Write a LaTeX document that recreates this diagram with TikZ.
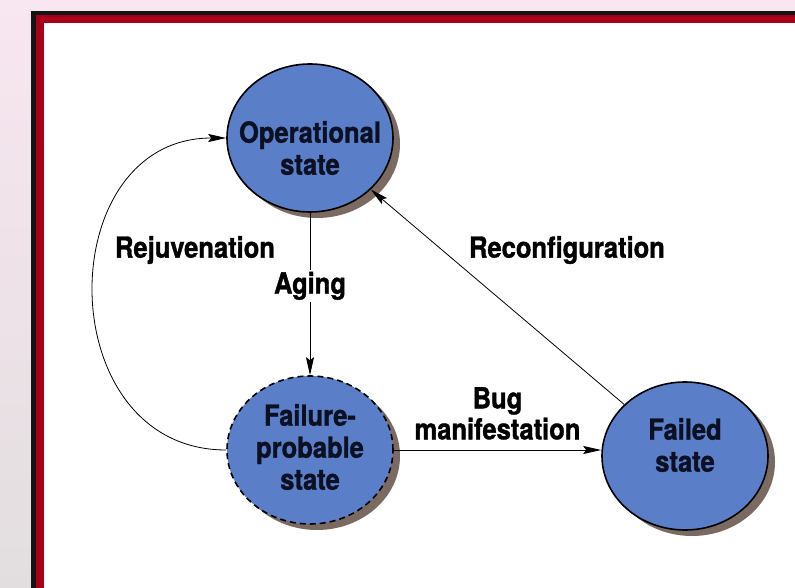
\documentclass[tikz,border=0pt]{standalone}
\usepackage{fontspec}
\setmainfont{TeX Gyre Heros}[FakeStretch=0.88, BoldFeatures={FakeBold=1.2}]
\usetikzlibrary{shapes.geometric,shadows,arrows.meta}

\definecolor{slidepink}{HTML}{F8E6F0}
\definecolor{slidegray}{HTML}{E2DEDF}
\definecolor{framered}{HTML}{A8001A}
\definecolor{stateblue}{HTML}{5B7EC9}
\definecolor{shadowbrown}{HTML}{7A6A62}
\definecolor{inkblue}{HTML}{0B1022}

\begin{document}
\begin{tikzpicture}[x=1pt, y=-1pt, thick,
    main node/.style={ellipse, draw=black, line width=1.6pt, fill=stateblue, minimum width=166pt, minimum height=148pt,
        drop shadow={shadow xshift=7pt, shadow yshift=-6pt, fill=shadowbrown, opacity=1}},
    state text/.style={align=center, text=inkblue, font=\fontsize{29}{32}\selectfont\bfseries},
    tag/.style={align=center, inner sep=2pt, font=\fontsize{29}{31}\selectfont\bfseries},
    every edge/.append style={-{Stealth[length=18pt,width=8pt,inset=3pt]}}]

    \useasboundingbox (0,0) rectangle (795,588);

    % slide frame
    \fill[slidepink] (0,0) rectangle (795,588);
    \shade[top color=slidepink, bottom color=slidegray] (0,0) rectangle (31,588);
    \fill[black!92] (31,11) rectangle (795,588);
    \fill[framered] (36,15) rectangle (795,588);
    \fill[white] (44,23) rectangle (795,588);

    \node[main node] at (310, 138) (op) {};
    \node[main node, dashed, dash pattern=on 6pt off 4pt] at (310, 450) (fp) {};
    \node[main node] at (685, 456) (fs) {};

    \node[state text] at ([yshift=-10pt]op.center) (op text) {Operational\\state};
    \node[state text] at ([yshift=3pt]fp.center) (fp text) {Failure-\\probable\\state};
    \node[state text] at ([yshift=11pt]fs.center) (fs text) {Failed\\state};

    \path (op) edge node[tag, fill=white, pos=0.45] (aging) {Aging} (fp);
    \path (fp) edge node[tag, above=8pt] (bug) {Bug\\manifestation} (fp -| fs.west);
    \path (fs) edge (op);
    \path (fp.west) edge[out=180, in=180, looseness=1.45] (op.west);

    \node[tag] at (567, 250) (reconf) {Reconfiguration};
    \node[tag] at (195, 250) (rejuv) {Rejuvenation};

\end{tikzpicture}
\end{document}
